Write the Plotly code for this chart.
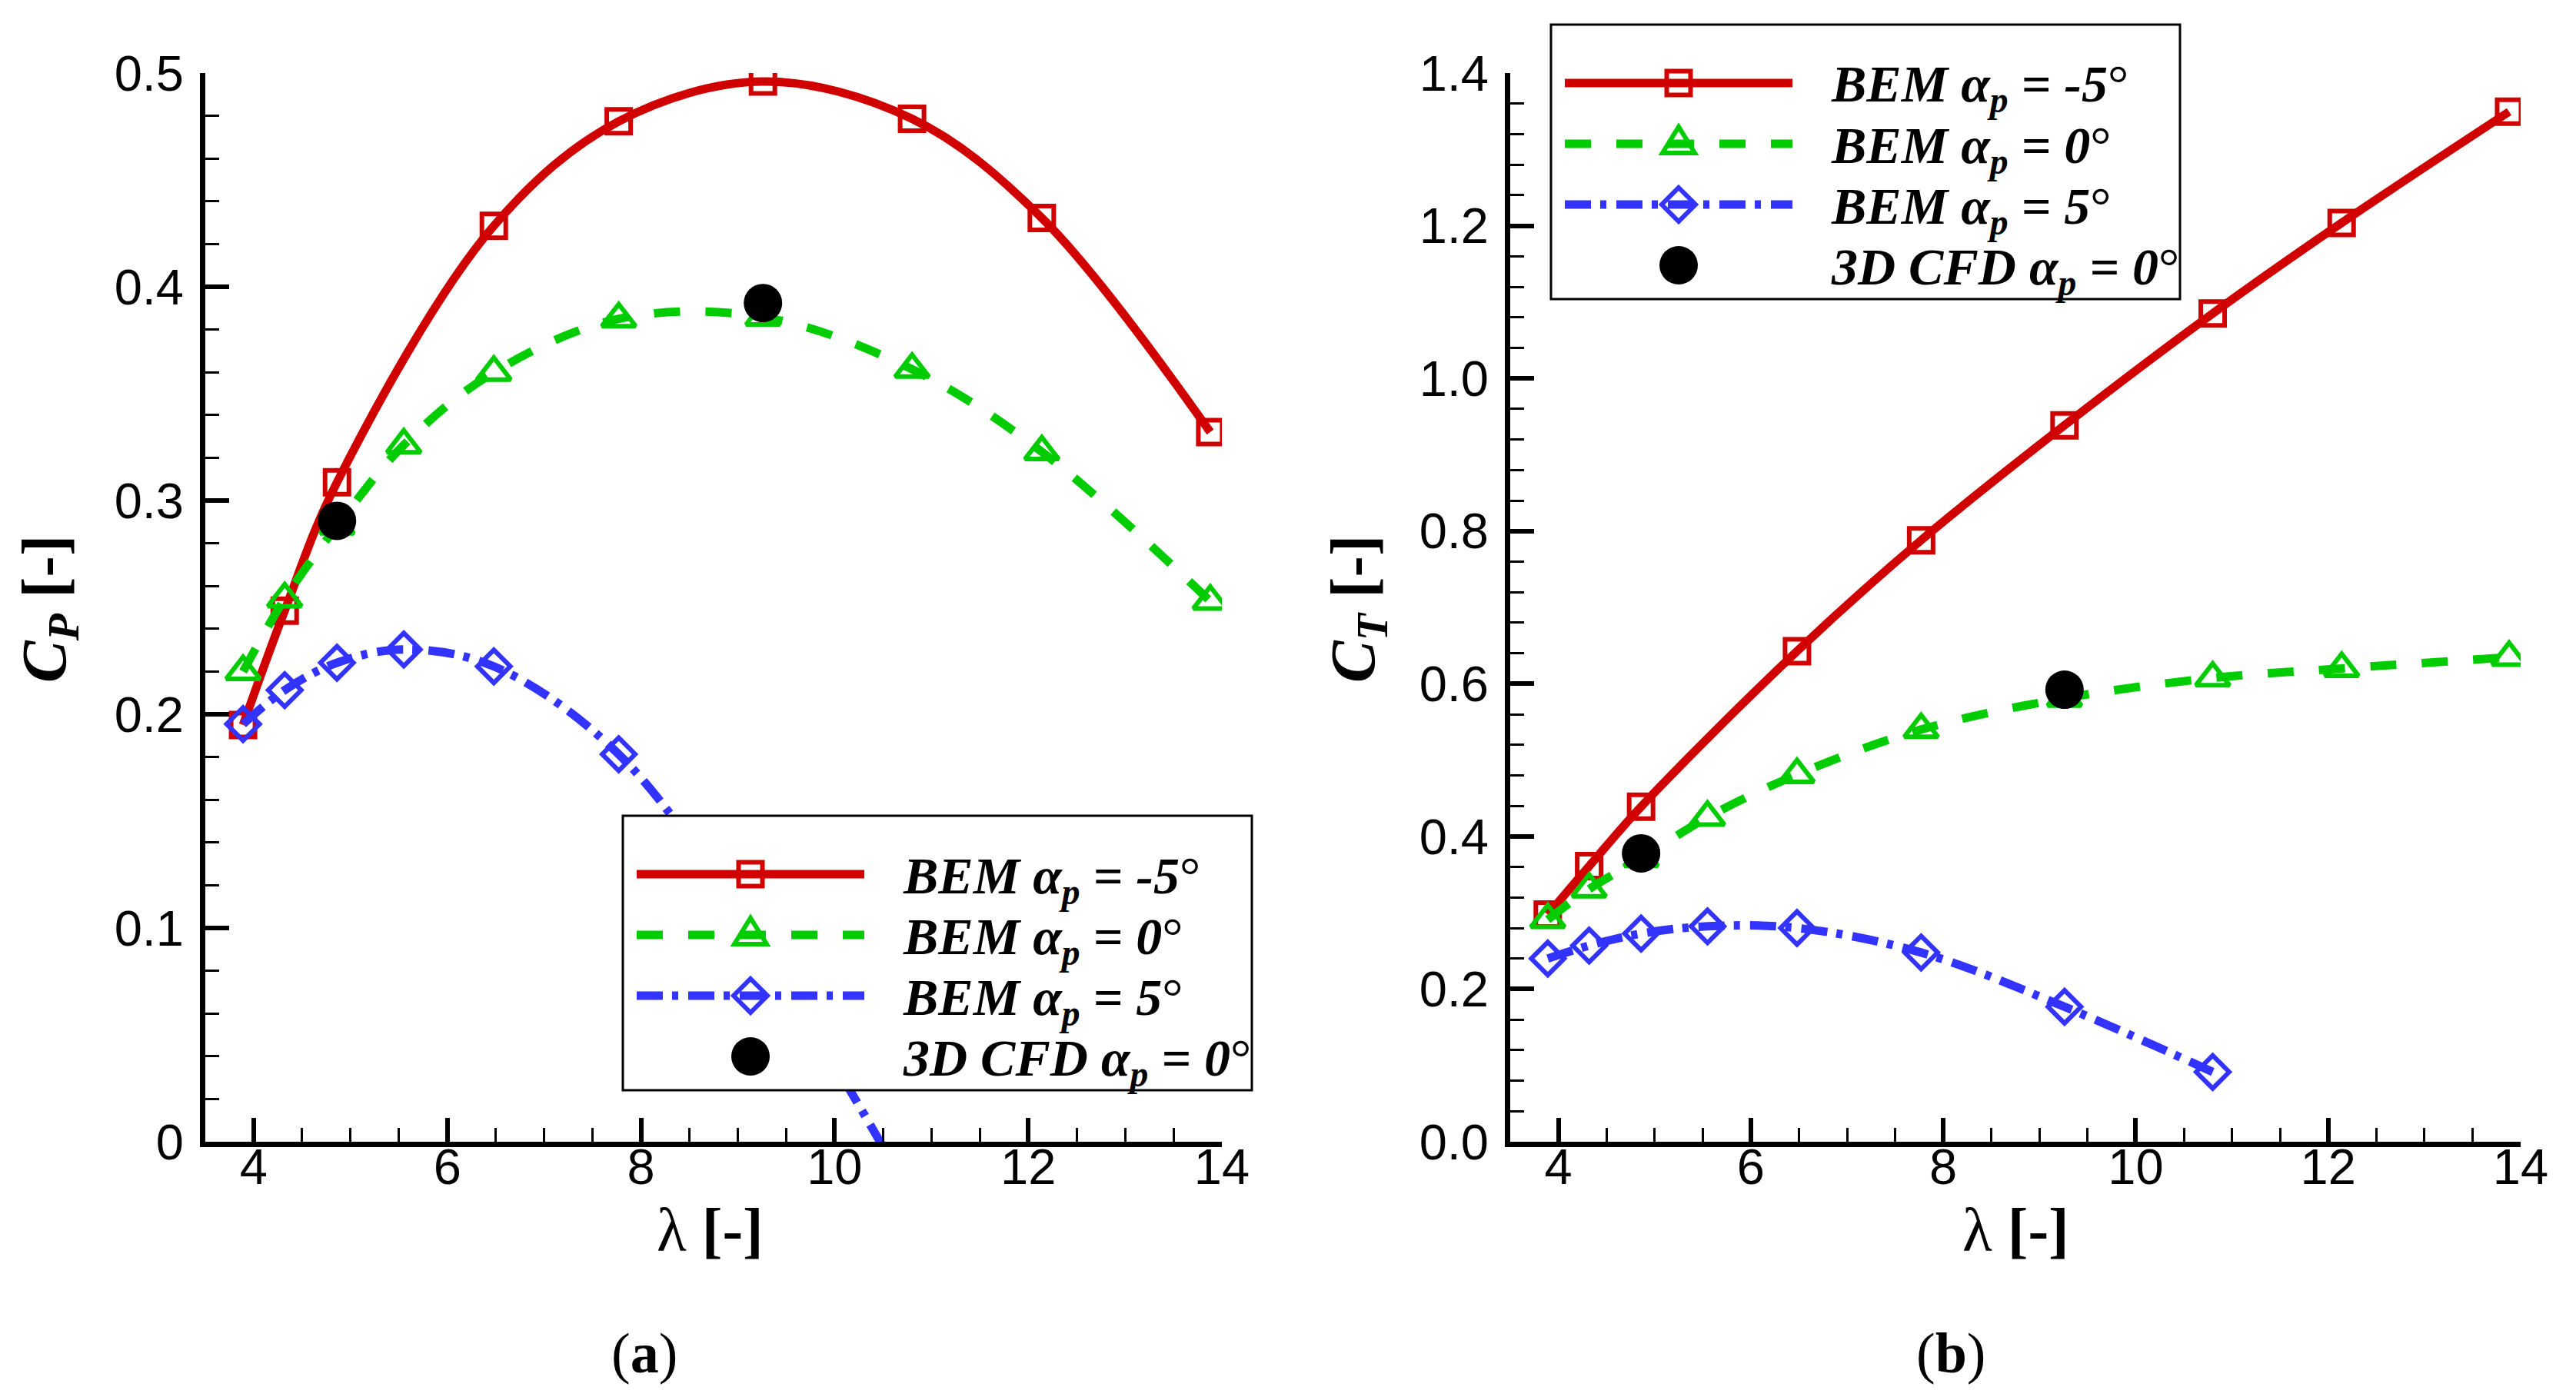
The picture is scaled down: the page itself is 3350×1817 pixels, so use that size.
import plotly.graph_objects as go

# tip speed ratio values (shared by both panels)
lam = [3.89, 4.32, 4.86, 5.55, 6.48, 7.77, 9.26, 10.8, 12.14, 13.88]
lam_red = [3.89, 4.32, 4.86, 6.48, 7.77, 9.26, 10.8, 12.14, 13.88]
lam_blue = [3.89, 4.32, 4.86, 5.55, 6.48, 7.77, 9.26, 10.8]
lam_cfd = [4.86, 9.26]

# (a) power coefficient
cp_m5 = [0.195, 0.2485, 0.3085, 0.4285, 0.4774, 0.496, 0.4786, 0.4322, 0.332]
cp_0 = [0.22, 0.254, 0.288, 0.326, 0.36, 0.385, 0.3858, 0.3614, 0.3228, 0.2529]
cp_p5 = [0.1954, 0.2113, 0.2241, 0.2303, 0.2224, 0.1813, 0.09, -0.026]
cp_cfd = [0.2905, 0.3924]

# (b) thrust coefficient
ct_m5 = [0.2976, 0.361, 0.439, 0.6426, 0.788, 0.9385, 1.085, 1.2037, 1.3494]
ct_0 = [0.291, 0.331, 0.371, 0.425, 0.481, 0.54, 0.581, 0.6075, 0.62, 0.6345]
ct_p5 = [0.24, 0.257, 0.2727, 0.2822, 0.28, 0.2479, 0.1768, 0.0914]
ct_cfd = [0.3778, 0.5922]

names = ['BEM α<sub>p</sub> = -5°', 'BEM α<sub>p</sub> = 0°',
         'BEM α<sub>p</sub> = 5°', '3D CFD α<sub>p</sub> = 0°']
legend_html = [
    '<b><i>BEM α</i></b><sub><b><i>p</i></b></sub><b><i> = -5</i></b>°',
    '<b><i>BEM α</i></b><sub><b><i>p</i></b></sub><b><i> = 0</i></b>°',
    '<b><i>BEM α</i></b><sub><b><i>p</i></b></sub><b><i> = 5</i></b>°',
    '<b><i>3D CFD α</i></b><sub><b><i>p</i></b></sub><b><i> = 0</i></b>°',
]

RED = '#D00000'
GREEN = '#00CC00'
BLUE = '#3333FF'
GREEN_DASH = '34px,33px'
BLUE_DASH = '34px,12px,8px,13px'
LW = 11

W, H = 3350, 1817
OFF = 8  # page body margin


def px(x):
    return (x - OFF) / W


def py(y):
    return 1 - (y - OFF) / H


fig = go.Figure()


def add_panel(xa, ya, red, green, blue, cfd):
    fig.add_trace(go.Scatter(
        x=lam_red, y=red, name=names[0], xaxis=xa, yaxis=ya,
        mode='lines+markers', line=dict(color=RED, width=LW, shape='spline'),
        marker=dict(symbol='square-open', size=31, color=RED, line=dict(width=6, color=RED))))
    fig.add_trace(go.Scatter(
        x=lam, y=green, name=names[1], xaxis=xa, yaxis=ya,
        mode='lines+markers', line=dict(color=GREEN, width=LW, dash=GREEN_DASH, shape='spline'),
        marker=dict(symbol='triangle-up-open', size=38, color=GREEN, line=dict(width=6, color=GREEN))))
    fig.add_trace(go.Scatter(
        x=lam_blue, y=blue, name=names[2], xaxis=xa, yaxis=ya,
        mode='lines+markers', line=dict(color=BLUE, width=LW, dash=BLUE_DASH, shape='spline'),
        marker=dict(symbol='diamond-open', size=33, color=BLUE, line=dict(width=6, color=BLUE))))
    fig.add_trace(go.Scatter(
        x=lam_cfd, y=cfd, name=names[3], xaxis=xa, yaxis=ya,
        mode='markers', marker=dict(symbol='circle', size=50, color='black', line=dict(width=0))))


add_panel('x', 'y', cp_m5, cp_0, cp_p5, cp_cfd)
add_panel('x2', 'y2', ct_m5, ct_0, ct_p5, ct_cfd)


def ax(**kw):
    d = dict(showline=True, linecolor='black', linewidth=7, mirror=False,
             ticks='inside', ticklen=31, tickwidth=6, tickcolor='black',
             showgrid=False, zeroline=False, automargin=False,
             tickfont=dict(family='Liberation Sans', size=65, color='black'))
    d.update(kw)
    return d


def minor(dt):
    return dict(ticks='inside', ticklen=18, tickwidth=3, tickcolor='black',
                dtick=dt, showgrid=False)


yd = [py(1485), py(95)]
fig.update_layout(
    width=W, height=H, autosize=False,
    margin=dict(l=0, r=0, t=0, b=0, pad=0),
    paper_bgcolor='white', plot_bgcolor='white',
    showlegend=False,
    font=dict(family='Liberation Serif', color='black'),
    xaxis=ax(domain=[px(267), px(1589)], range=[3.5, 14], tick0=0, dtick=2,
             minor=minor(0.5), ticklabelstandoff=-30, anchor='y'),
    yaxis=ax(domain=yd, range=[0, 0.5], dtick=0.1, minor=minor(0.02),
             ticklabelstandoff=8, anchor='x'),
    xaxis2=ax(domain=[px(1964), px(3278)], range=[3.5, 14], tick0=0, dtick=2,
              minor=minor(0.5), ticklabelstandoff=-30, anchor='y2'),
    yaxis2=ax(domain=yd, range=[0, 1.4], dtick=0.2, tickformat='.1f',
              minor=minor(0.04), ticklabelstandoff=8, anchor='x2'),
)


def add_legend(left, top):
    bw, bh = 818, 357
    fig.add_shape(type='rect', xref='paper', yref='paper', layer='above',
                  x0=px(left), x1=px(left + bw), y0=py(top), y1=py(top + bh),
                  line=dict(color='black', width=3), fillcolor='white')
    styles = [(RED, 'solid'), (GREEN, GREEN_DASH), (BLUE, BLUE_DASH), (None, None)]
    for i, (col, dash) in enumerate(styles):
        cy = top + 76 + i * 79
        mx = left + 166
        if col is not None:
            fig.add_shape(type='line', xref='paper', yref='paper', layer='above',
                          x0=px(left + 18), x1=px(left + 314), y0=py(cy), y1=py(cy),
                          line=dict(color=col, width=LW, dash=dash))
        if i == 0:
            fig.add_shape(type='rect', xref='paper', yref='paper', layer='above',
                          x0=px(mx - 15.5), x1=px(mx + 15.5), y0=py(cy - 15.5), y1=py(cy + 15.5),
                          line=dict(color=RED, width=6), fillcolor='rgba(0,0,0,0)')
        elif i == 1:
            path = 'M{},{} L{},{} L{},{} Z'.format(px(mx - 21), py(cy + 12), px(mx + 21), py(cy + 12),
                                                   px(mx), py(cy - 22))
            fig.add_shape(type='path', path=path, xref='paper', yref='paper', layer='above',
                          line=dict(color=GREEN, width=6), fillcolor='rgba(0,0,0,0)')
        elif i == 2:
            path = 'M{},{} L{},{} L{},{} L{},{} Z'.format(px(mx), py(cy - 22), px(mx + 22), py(cy),
                                                          px(mx), py(cy + 22), px(mx - 22), py(cy))
            fig.add_shape(type='path', path=path, xref='paper', yref='paper', layer='above',
                          line=dict(color=BLUE, width=6), fillcolor='rgba(0,0,0,0)')
        else:
            fig.add_shape(type='circle', xref='paper', yref='paper', layer='above',
                          x0=px(mx - 25), x1=px(mx + 25), y0=py(cy - 25), y1=py(cy + 25),
                          line=dict(width=0), fillcolor='black')
        fig.add_annotation(x=px(left + 362), y=py(cy + 6), xref='paper', yref='paper',
                           xanchor='left', yanchor='middle', showarrow=False,
                           text=legend_html[i], font=dict(size=68, family='Liberation Serif'))


add_legend(810, 1061)
add_legend(2017, 32)

# axis titles and panel labels
for xc, txt in [(63, '<b><i>C</i></b><sub><b><i>P</i></b></sub><b> [-]</b>'),
                (1765, '<b><i>C</i></b><sub><b><i>T</i></b></sub><b> [-]</b>')]:
    fig.add_annotation(x=px(xc), y=py(792), xref='paper', yref='paper', textangle=-90,
                       xanchor='center', yanchor='middle',
                       showarrow=False, text=txt, font=dict(size=82, family='Liberation Serif'))
for xc in [924, 2621]:
    fig.add_annotation(x=px(xc), y=py(1600), xref='paper', yref='paper', showarrow=False,
                       xanchor='center', yanchor='middle',
                       text='λ <b>[-]</b>', font=dict(size=80, family='Liberation Serif'))
for xc, lab in [(838, 'a'), (2537, 'b')]:
    fig.add_annotation(x=px(xc), y=py(1760), xref='paper', yref='paper', showarrow=False,
                       xanchor='center', yanchor='middle',
                       text='(<b>' + lab + '</b>)', font=dict(size=74, family='Liberation Serif'))

fig.write_html('out.html')
